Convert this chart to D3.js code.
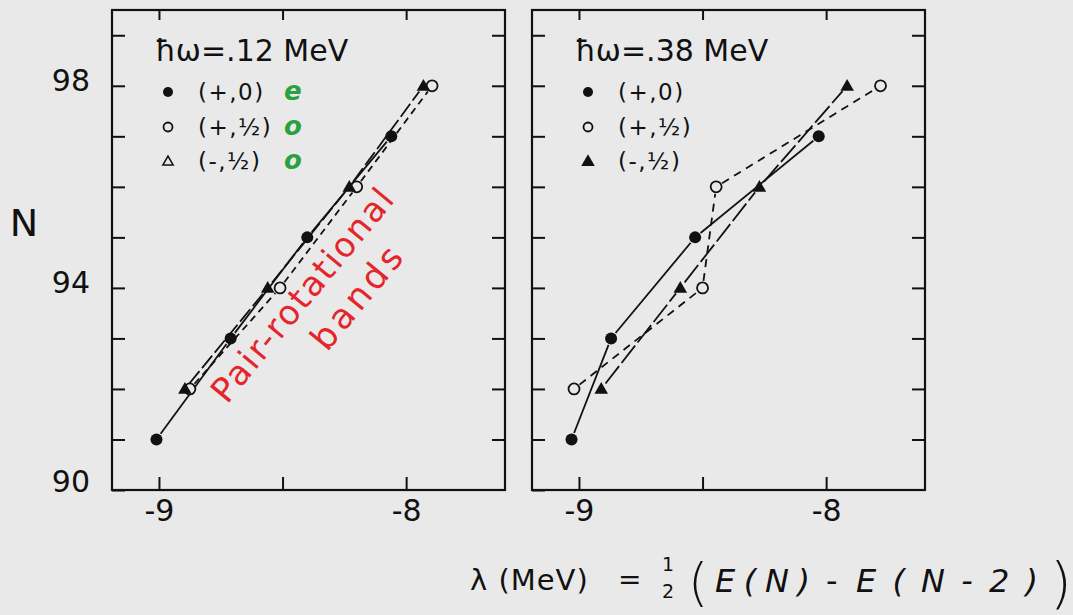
<!DOCTYPE html>
<html><head><meta charset="utf-8">
<script src="https://cdn.jsdelivr.net/npm/d3@7"></script>
<style>
html,body{margin:0;padding:0;background:#e9e9e9;}
svg{display:block;}
text{font-family:"DejaVu Sans",sans-serif;fill:#111;}
</style></head>
<body>
<svg id="c" width="1073" height="615"></svg>
<script>
// ---------- data ----------
const xDomain = [-9.19, -7.6];
const yDomain = [90, 99.5];
const xTicks = [-9, -8.5, -8];
const xTickLabels = [-9, -8];
const yTicks = [90, 91, 92, 93, 94, 95, 96, 97, 98, 99];
const yTickLabels = [90, 94, 98];

const seriesNames = ["(+,0)", "(+,½)", "(-,½)"];
const greenNotes = ["e", "o", "o"];

// panel 1: ħω = .12 MeV
const p1Title = "ħω=.12 MeV";
const p1EvenN = [91, 93, 95, 97];
const p1EvenLam = [-9.01, -8.71, -8.40, -8.06];
const p1OddPlusN = [92, 94, 96, 98];
const p1OddPlusLam = [-8.875, -8.51, -8.20, -7.895];
const p1OddMinusN = [92, 94, 96, 98];
const p1OddMinusLam = [-8.895, -8.56, -8.23, -7.93];

// panel 2: ħω = .38 MeV
const p2Title = "ħω=.38 MeV";
const p2EvenN = [91, 93, 95, 97];
const p2EvenLam = [-9.03, -8.87, -8.53, -8.03];
const p2OddPlusN = [92, 94, 96, 98];
const p2OddPlusLam = [-9.02, -8.50, -8.445, -7.78];
const p2OddMinusN = [92, 94, 96, 98];
const p2OddMinusLam = [-8.91, -8.59, -8.27, -7.915];

// ---------- drawing ----------
const svg = d3.select("#c");
const plotTop = 10, plotBottom = 490;
const panels = [
  {x0: 112, x1: 505, title: p1Title, legendTriOpen: true, green: true, yLabels: true,
   series: [
     {n: p1EvenN, l: p1EvenLam, mark: "fcircle", dash: null},
     {n: p1OddPlusN, l: p1OddPlusLam, mark: "ocircle", dash: "7,5"},
     {n: p1OddMinusN, l: p1OddMinusLam, mark: "ftri", dash: "16,4"}]},
  {x0: 532, x1: 925, title: p2Title, legendTriOpen: false, green: false, yLabels: false,
   series: [
     {n: p2EvenN, l: p2EvenLam, mark: "fcircle", dash: null},
     {n: p2OddPlusN, l: p2OddPlusLam, mark: "ocircle", dash: "8,6"},
     {n: p2OddMinusN, l: p2OddMinusLam, mark: "ftri", dash: "22,4"}]}
];

const y = d3.scaleLinear().domain(yDomain).range([plotBottom, plotTop]);
const tri = d3.symbol().type(d3.symbolTriangle).size(80);

function drawMark(g, type, cx, cy, big) {
  if (type === "fcircle") {
    g.append("circle").attr("cx", cx).attr("cy", cy).attr("r", big ? 6 : 5).attr("fill", "#111");
  } else if (type === "ocircle") {
    g.append("circle").attr("cx", cx).attr("cy", cy).attr("r", big ? 5.5 : 4.5)
      .attr("fill", "#e9e9e9").attr("stroke", "#111").attr("stroke-width", 1.8);
  } else if (type === "ftri") {
    g.append("path").attr("d", tri()).attr("transform", `translate(${cx},${cy + 1})`).attr("fill", "#111");
  } else if (type === "otri") {
    g.append("path").attr("d", d3.symbol().type(d3.symbolTriangle).size(45)()).attr("transform", `translate(${cx},${cy + 1})`)
      .attr("fill", "none").attr("stroke", "#111").attr("stroke-width", 1.6);
  }
}

panels.forEach((p, pi) => {
  const x = d3.scaleLinear().domain(xDomain).range([p.x0, p.x1]);
  const g = svg.append("g");

  const fmtY = d => (p.yLabels && yTickLabels.includes(d)) ? d : "";
  const fmtX = d => xTickLabels.includes(d) ? d : "";
  const gl = g.append("g").attr("transform", `translate(${p.x0},0)`)
    .call(d3.axisLeft(y).tickValues(yTicks).tickSize(-13).tickPadding(22).tickFormat(fmtY));
  const gr = g.append("g").attr("transform", `translate(${p.x1},0)`)
    .call(d3.axisRight(y).tickValues(yTicks.slice(1)).tickSize(-13).tickFormat(""));
  const gb = g.append("g").attr("transform", `translate(0,${plotBottom})`)
    .call(d3.axisBottom(x).tickValues(xTicks).tickSize(-13).tickPadding(10).tickFormat(fmtX));
  const gt = g.append("g").attr("transform", `translate(0,${plotTop})`)
    .call(d3.axisTop(x).tickValues(xTicks).tickSize(-10).tickFormat(""));
  [gl, gr, gb, gt].forEach(a => {
    a.select(".domain").remove();
    a.selectAll("line").attr("stroke", "#111").attr("stroke-width", 2);
    a.selectAll("text").attr("font-size", 30).attr("fill", "#111")
      .attr("font-family", "DejaVu Sans, sans-serif");
  });
  gl.selectAll("text").attr("y", d => d === 90 ? -8 : -5);
  g.append("rect").attr("x", p.x0).attr("y", plotTop).attr("width", p.x1 - p.x0).attr("height", plotBottom - plotTop)
    .attr("fill", "none").attr("stroke", "#111").attr("stroke-width", 2.2);

  p.series.forEach(s => {
    const pts = s.n.map((n, i) => [x(s.l[i]), y(n)]);
    for (let i = 0; i < pts.length - 1; i++) {
      const [ax, ay] = pts[i], [bx, by] = pts[i + 1];
      const len = Math.hypot(bx - ax, by - ay), gap = 7;
      const ux = (bx - ax) / len, uy = (by - ay) / len;
      g.append("line")
        .attr("x1", ax + ux * gap).attr("y1", ay + uy * gap)
        .attr("x2", bx - ux * gap).attr("y2", by - uy * gap)
        .attr("stroke", "#111").attr("stroke-width", 1.8)
        .attr("stroke-dasharray", s.dash);
    }
  });
  p.series.forEach(s => {
    s.n.forEach((n, i) => drawMark(g, s.mark, x(s.l[i]), y(n), true));
  });

  const lx = p.x0 + 43;
  g.append("text").attr("x", lx).attr("y", 61).attr("font-size", 30).text(p.title);
  const legMarks = ["fcircle", "ocircle", p.legendTriOpen ? "otri" : "ftri"];
  const rows = [92, 127, 161];
  seriesNames.forEach((nm, i) => {
    drawMark(g, legMarks[i], p.x0 + 56, rows[i], false);
    g.append("text").attr("x", p.x0 + 86).attr("y", rows[i] + 8).attr("font-size", 23)
      .attr("letter-spacing", 1.5).text(nm);
    if (p.green) {
      g.append("text").attr("x", p.x0 + 172).attr("y", rows[i] + 8).attr("font-size", 26)
        .attr("font-style", "italic").attr("font-weight", "bold")
        .style("fill", "#2aa13f").text(greenNotes[i]);
    }
  });
});

svg.append("text").attr("x", 24).attr("y", 236).attr("text-anchor", "middle").attr("font-size", 38).text("N");

const red = svg.append("g").attr("transform", "translate(227,405) rotate(-50.5)");
red.append("text").attr("x", 0).attr("y", 0).attr("font-size", 34).attr("letter-spacing", 2)
  .attr("font-family", "Lato, sans-serif").attr("font-weight", 400)
  .style("fill", "#e5242b").text("Pair-rotational");
red.append("text").attr("x", 104).attr("y", 44).attr("font-size", 35).attr("letter-spacing", 4)
  .attr("font-family", "Lato, sans-serif").attr("font-weight", 400)
  .style("fill", "#e5242b").text("bands");

const f = svg.append("g");
f.append("text").attr("x", 470).attr("y", 590).attr("font-size", 29).attr("letter-spacing", 1).text("λ (MeV)");
f.append("text").attr("x", 618).attr("y", 589).attr("font-size", 28).text("=");
f.append("text").attr("x", 668).attr("y", 571).attr("text-anchor", "middle").attr("font-size", 19).text("1");
f.append("text").attr("x", 668).attr("y", 598).attr("text-anchor", "middle").attr("font-size", 19).text("2");
f.append("text").attr("x", 688).attr("y", 600).attr("font-size", 52).attr("font-weight", 300).text("(");
f.append("text").attr("x", 715).attr("y", 592).attr("font-size", 32).attr("font-style", "italic")
  .attr("textLength", 95).attr("lengthAdjust", "spacing").text("E(N)");
f.append("text").attr("x", 826).attr("y", 592).attr("font-size", 32).text("-");
f.append("text").attr("x", 856).attr("y", 592).attr("font-size", 32).attr("font-style", "italic")
  .attr("textLength", 182).attr("lengthAdjust", "spacing").text("E(N-2)");
f.append("text").attr("x", 1050).attr("y", 602).attr("font-size", 56).attr("font-weight", 300).text(")");
</script>
</body></html>
